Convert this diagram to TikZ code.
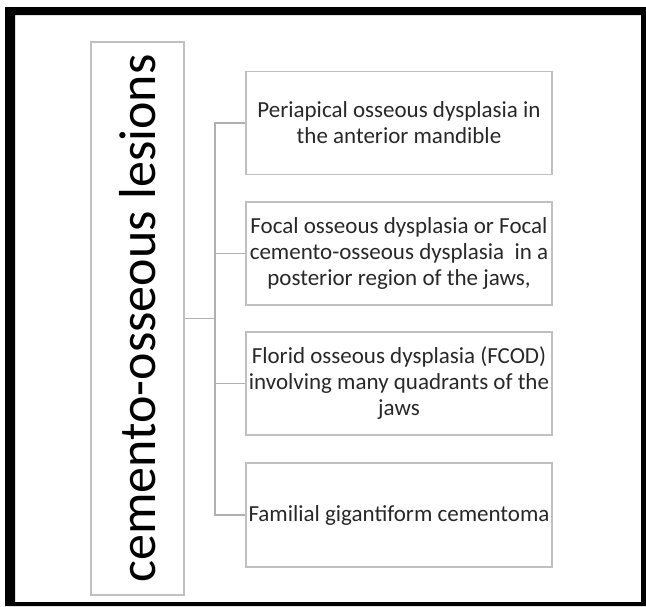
\documentclass[tikz,border=0pt]{standalone}
\usepackage{fontspec}
\setmainfont{Carlito}
\usetikzlibrary{positioning}

\definecolor{boxgray}{RGB}{192,192,192}
\definecolor{linkgray}{RGB}{176,176,176}
\definecolor{inkgray}{RGB}{40,40,40}

\tikzset{
  titlebox/.style={draw=boxgray, line width=1.2pt, rotate=90, inner sep=0pt,
    minimum width=553pt, minimum height=93pt, text=black,
    font=\fontsize{52}{60}\selectfont},
  leafbox/.style={draw=boxgray, line width=1.4pt, inner sep=0pt, align=center,
    minimum width=306pt, minimum height=103pt, text=inkgray,
    font=\fontsize{23}{26}\selectfont},
  link/.style={draw=linkgray, line width=1.6pt}
}

\begin{document}
\begin{tikzpicture}[x=1pt, y=-1pt]
  \useasboundingbox (0,0) rectangle (646,606);
  %--- outer frame ---
  \fill[black, even odd rule] (5,7) rectangle (646,606) (15,15) rectangle (641,602);

  %--- root ---
  \node[titlebox] (lesions) at (137.5,318.5) {cemento-osseous lesions};

  %--- leaves ---
  \node[leafbox] (periapical) at (399,123)
    {Periapical osseous dysplasia in\\the anterior mandible};
  \node[leafbox] (focal) at (399,253.5)
    {Focal osseous dysplasia or Focal\\cemento-osseous dysplasia \ in a\\posterior region of the jaws,};
  \node[leafbox] (florid) at (399,383.5)
    {Florid osseous dysplasia (FCOD)\\involving many quadrants of the\\jaws};
  \node[leafbox, minimum height=104pt] (familial) at (399,515)
    {Familial gigantiform cementoma};

  %--- connectors ---
  \coordinate (trunk) at (215,318.5);
  \draw[link] (lesions.south) -- (trunk);
  \draw[link] (periapical.west) -| (trunk) |- (familial.west);
  \foreach \leaf in {focal, florid}
    \draw[link] (\leaf.west) -- (\leaf.west -| trunk);
\end{tikzpicture}
\end{document}
